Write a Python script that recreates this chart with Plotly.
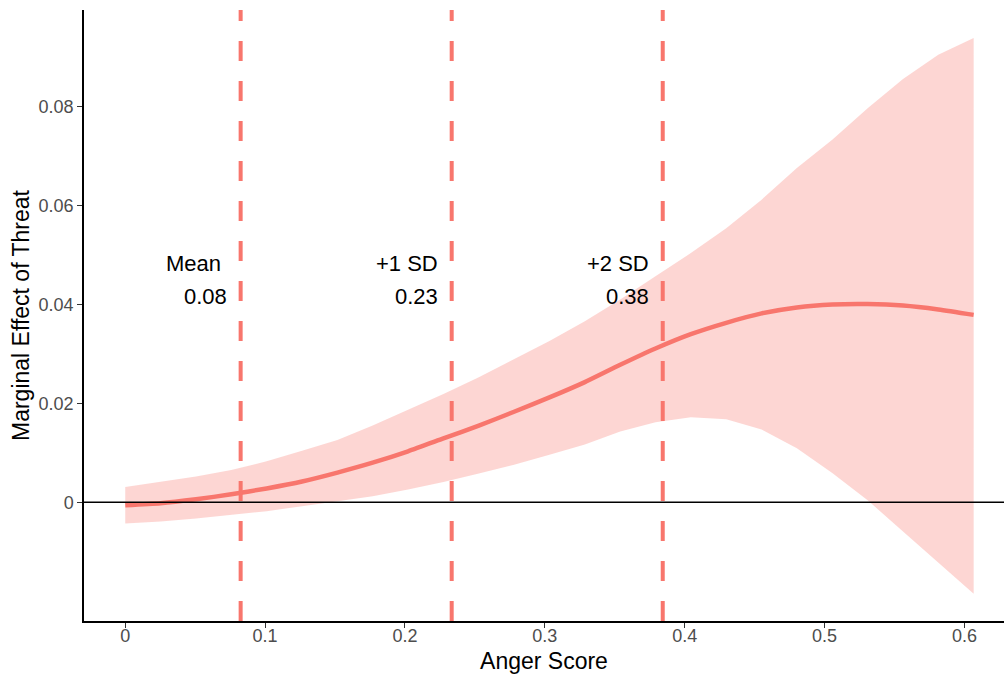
import plotly.graph_objects as go

# Anger score grid at which the marginal effect was evaluated
anger = [0.0000, 0.0253, 0.0506, 0.0758, 0.1011, 0.1264, 0.1517, 0.1769,
         0.2022, 0.2275, 0.2528, 0.2780, 0.3033, 0.3286, 0.3539, 0.3791,
         0.4044, 0.4297, 0.4550, 0.4802, 0.5055, 0.5308, 0.5561, 0.5813,
         0.6066]

# Marginal effect of threat and its confidence band
effect = [-0.0006, -0.0002, 0.0006, 0.0016, 0.0028, 0.0042, 0.0060, 0.0080,
          0.0103, 0.0129, 0.0155, 0.0183, 0.0212, 0.0243, 0.0278, 0.0311,
          0.0340, 0.0363, 0.0382, 0.0394, 0.0400, 0.0401, 0.0398, 0.0390,
          0.0379]
upper = [0.0031, 0.0041, 0.0052, 0.0065, 0.0083, 0.0104, 0.0126, 0.0155,
         0.0187, 0.0219, 0.0253, 0.0289, 0.0326, 0.0366, 0.0410, 0.0457,
         0.0504, 0.0554, 0.0612, 0.0676, 0.0733, 0.0797, 0.0856, 0.0905,
         0.0939]
lower = [-0.0043, -0.0039, -0.0033, -0.0026, -0.0018, -0.0008, 0.0002, 0.0012,
         0.0026, 0.0041, 0.0058, 0.0076, 0.0096, 0.0117, 0.0143, 0.0162,
         0.0172, 0.0168, 0.0147, 0.0109, 0.0059, 0.0004, -0.0059, -0.0122,
         -0.0185]

# Reference points of the anger distribution
ref_names = ["Mean", "+1 SD", "+2 SD"]
ref_values = [0.0825, 0.2334, 0.3843]
ref_label_y = 0.045

x_ticks = [0, 0.1, 0.2, 0.3, 0.4, 0.5, 0.6]
x_tick_text = ["0", "0.1", "0.2", "0.3", "0.4", "0.5", "0.6"]
y_ticks = [0, 0.02, 0.04, 0.06, 0.08]
y_tick_text = ["0", "0.02", "0.04", "0.06", "0.08"]

RED = "#F8766D"
BAND = "rgba(248,118,109,0.3)"
FONT = "Liberation Sans, Arial, Helvetica, sans-serif"

fig = go.Figure()

fig.add_trace(go.Scatter(x=anger, y=lower, mode="lines", line=dict(width=0),
                         hoverinfo="skip", showlegend=False))
fig.add_trace(go.Scatter(x=anger, y=upper, mode="lines", line=dict(width=0),
                         fill="tonexty", fillcolor=BAND,
                         hoverinfo="skip", showlegend=False))
fig.add_trace(go.Scatter(x=anger, y=effect, mode="lines",
                         line=dict(color=RED, width=4.5, shape="spline",
                                   smoothing=0.6),
                         showlegend=False))

shapes = [dict(type="line", xref="paper", yref="y", x0=0, x1=1, y0=0, y1=0,
               line=dict(color="black", width=1.5), layer="above")]
annotations = []
for name, v in zip(ref_names, ref_values):
    shapes.append(dict(type="line", xref="x", yref="paper", x0=v, x1=v,
                       y0=0, y1=1, layer="above",
                       line=dict(color=RED, width=4, dash="20px,20px")))
    annotations.append(dict(x=v, y=ref_label_y, xref="x", yref="y",
                            text=name, showarrow=False,
                            xanchor="right", yanchor="middle",
                            xshift=-18 if name == "Mean" else -12,
                            yshift=16.5,
                            font=dict(family=FONT, size=22, color="black")))
    annotations.append(dict(x=v, y=ref_label_y, xref="x", yref="y",
                            text=f"{v:.2f}", showarrow=False,
                            xanchor="right", yanchor="middle",
                            xshift=-12, yshift=-16.5,
                            font=dict(family=FONT, size=22, color="black")))

axis_common = dict(showgrid=False, zeroline=False, showline=True,
                   linecolor="black", linewidth=1.5, ticks="outside",
                   ticklen=5, tickwidth=1.2, tickcolor="#333333",
                   tickfont=dict(family=FONT, size=18, color="#4D4D4D"))

fig.update_layout(
    width=1004, height=674,
    margin=dict(l=84, r=0, t=10, b=53),
    paper_bgcolor="white", plot_bgcolor="white",
    font=dict(family=FONT),
    shapes=shapes, annotations=annotations,
    xaxis=dict(range=[-0.0295, 0.6283], tickvals=x_ticks, ticktext=x_tick_text,
               ticklabelstandoff=-7,
               title=dict(text="Anger Score", standoff=10,
                          font=dict(family=FONT, size=23, color="black")),
               **axis_common),
    yaxis=dict(range=[-0.02402, 0.09957], tickvals=y_ticks, ticktext=y_tick_text,
               title=dict(text="Marginal Effect of Threat", standoff=3,
                          font=dict(family=FONT, size=23, color="black")),
               **axis_common),
)

fig.write_html("out.html")
